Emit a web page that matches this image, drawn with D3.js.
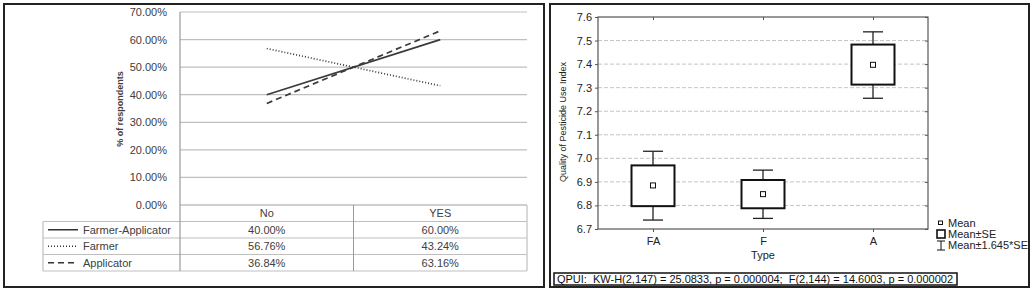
<!DOCTYPE html>
<html>
<head>
<meta charset="utf-8">
<script src="https://cdn.jsdelivr.net/npm/d3@7"></script>
<style>
  body { margin: 0; background: #fff; }
  svg text { font-family: "Liberation Sans", Arial, sans-serif; }
</style>
</head>
<body>
<div id="chart"></div>
<script>

// LEFT CHART DATA
const groups = ['No', 'YES'];
const seriesNames = ['Farmer-Applicator', 'Farmer', 'Applicator'];
const farmerApplicator = [40.00, 60.00];
const farmer = [56.76, 43.24];
const applicator = [36.84, 63.16];
const pctTicks = [0, 10, 20, 30, 40, 50, 60, 70];

// RIGHT CHART DATA
const types = ['FA', 'F', 'A'];
const means = [6.885, 6.848, 7.397];
const seLow = [6.797, 6.788, 7.313];
const seHigh = [6.970, 6.908, 7.483];
const ciLow = [6.738, 6.745, 7.255];
const ciHigh = [7.030, 6.950, 7.537];
const qpuiTicks = [6.7, 6.8, 6.9, 7.0, 7.1, 7.2, 7.3, 7.4, 7.5, 7.6];
const legendLabels = ['Mean', 'Mean\u00b1SE', 'Mean\u00b11.645*SE'];
const footer = 'QPUI:  KW-H(2,147) = 25.0833, p = 0.000004;  F(2,144) = 14.6003, p = 0.000002';

const dashes = ['none', '1,2', '6,4'];

var svg = d3.select('#chart')
    .append('svg')
    .attr('width', 1035)
    .attr('height', 293);

// panel frames
svg.append('rect').attr('x', 4).attr('y', 4).attr('width', 540).attr('height', 283)
    .attr('fill', 'none').attr('stroke', '#222').attr('stroke-width', 2);
svg.append('rect').attr('x', 550).attr('y', 4).attr('width', 479).attr('height', 283)
    .attr('fill', 'none').attr('stroke', '#222').attr('stroke-width', 2);


//// LEFT: line chart with data table
const left = svg.append('g');

const xL = d3.scaleBand().domain(groups).range([180, 527]);
const yL = d3.scaleLinear().domain([0, 70]).range([205, 12]);
const rows = d3.scaleBand().domain(['head'].concat(seriesNames)).range([205, 271]);

// gridlines
left.selectAll('line.grid')
    .data(pctTicks)
    .enter().append('line')
    .attr('x1', 180).attr('x2', 527)
    .attr('y1', d => yL(d)).attr('y2', d => yL(d))
    .attr('stroke', '#bfbfbf').attr('stroke-width', 1.2);

left.selectAll('text.ytick')
    .data(pctTicks)
    .enter().append('text')
    .attr('x', 167)
    .attr('y', d => yL(d) + 4)
    .attr('text-anchor', 'end')
    .style('font-size', '11px')
    .style('fill', '#404040')
    .text(d => d.toFixed(2) + '%');

let lbl = left.append('text');
lbl.attr('transform', 'translate(123, 109)rotate(-90)');
lbl.attr('text-anchor', 'middle');
lbl.style('font-size', '9px').style('font-weight', 'bold').style('fill', '#404040');
lbl.text('% of respondents');

// table lines
const rowEdges = [205].concat(seriesNames.map(s => rows(s))).concat([271]);
left.selectAll('line.row')
    .data(rowEdges)
    .enter().append('line')
    .attr('x1', (d, i) => i === 0 ? 180 : 43).attr('x2', 527)
    .attr('y1', d => d).attr('y2', d => d)
    .attr('stroke', '#bfbfbf').attr('stroke-width', 1.2);

left.append('line').attr('x1', 43).attr('x2', 43).attr('y1', rows(seriesNames[0])).attr('y2', 271)
    .attr('stroke', '#bfbfbf').attr('stroke-width', 1.2);
left.append('line').attr('x1', 180).attr('x2', 180).attr('y1', yL(70)).attr('y2', 271)
    .attr('stroke', '#9a9a9a').attr('stroke-width', 1.2);
left.append('line').attr('x1', xL('YES')).attr('x2', xL('YES')).attr('y1', 205).attr('y2', 271)
    .attr('stroke', '#9a9a9a').attr('stroke-width', 1);
left.append('line').attr('x1', 527).attr('x2', 527).attr('y1', 205).attr('y2', 271)
    .attr('stroke', '#bfbfbf').attr('stroke-width', 1.2);

// header
left.selectAll('text.head')
    .data(groups)
    .enter().append('text')
    .attr('x', d => xL(d) + xL.bandwidth() / 2)
    .attr('y', rows('head') + 12)
    .attr('text-anchor', 'middle')
    .style('font-size', '11px').style('fill', '#404040')
    .text(d => d);

const seriesData = [farmerApplicator, farmer, applicator];

seriesNames.forEach(function (name, i) {
    const vals = seriesData[i];
    const ry = rows(name) + rows.bandwidth() / 2;

    // legend sample + name
    left.append('line')
        .attr('x1', 48).attr('x2', 78)
        .attr('y1', ry).attr('y2', ry)
        .attr('stroke', '#333').attr('stroke-width', 1.5)
        .attr('stroke-dasharray', dashes[i]);
    left.append('text')
        .attr('x', 83).attr('y', ry + 4)
        .style('font-size', '11px').style('fill', '#404040')
        .text(name);

    // values
    left.selectAll('text.v' + i)
        .data(vals)
        .enter().append('text')
        .attr('x', (d, j) => xL(groups[j]) + xL.bandwidth() / 2)
        .attr('y', ry + 4)
        .attr('text-anchor', 'middle')
        .style('font-size', '11px').style('fill', '#404040')
        .text(d => d.toFixed(2) + '%');

    // the line
    const line = d3.line()
        .x((d, j) => xL(groups[j]) + xL.bandwidth() / 2)
        .y(d => yL(d));
    left.append('path')
        .datum(vals)
        .attr('d', line)
        .attr('fill', 'none')
        .attr('stroke', '#3a3a3a')
        .attr('stroke-width', 1.7)
        .attr('stroke-dasharray', dashes[i]);
});


//// RIGHT: box plot
const right = svg.append('g');

const xR = d3.scalePoint().domain(types).range([598, 928]).padding(0.5);
const yR = d3.scaleLinear().domain([6.7, 7.6]).range([229, 17]);

right.selectAll('line.grid')
    .data(qpuiTicks.slice(1, -1))
    .enter().append('line')
    .attr('x1', 598).attr('x2', 928)
    .attr('y1', d => yR(d)).attr('y2', d => yR(d))
    .attr('stroke', '#c4c4c4').attr('stroke-width', 1)
    .attr('stroke-dasharray', '4,2');

// frame
right.append('rect')
    .attr('x', 598).attr('y', yR(7.6))
    .attr('width', 330).attr('height', yR(6.7) - yR(7.6))
    .attr('fill', 'none').attr('stroke', '#555').attr('stroke-width', 1.2);

right.append('g')
    .attr('transform', 'translate(598, 0)')
    .call(d3.axisLeft(yR).tickValues(qpuiTicks).tickSize(3).tickFormat(d3.format('.1f')))
    .call(g => g.select('.domain').remove())
    .call(g => g.selectAll('line').attr('stroke', '#555'))
    .call(g => g.selectAll('text').attr('x', -6).style('font-size', '11px')
        .style('font-family', '"Liberation Sans", Arial, sans-serif').attr('fill', '#222'));

right.append('g')
    .attr('transform', 'translate(928, 0)')
    .call(d3.axisLeft(yR).tickValues(qpuiTicks).tickSize(3).tickFormat(''))
    .call(g => g.select('.domain').remove())
    .call(g => g.selectAll('line').attr('stroke', '#555'));

right.append('g')
    .attr('transform', 'translate(0, ' + yR(6.7) + ')')
    .call(d3.axisBottom(xR).tickSize(3))
    .call(g => g.select('.domain').remove())
    .call(g => g.selectAll('line').attr('stroke', '#555'))
    .call(g => g.selectAll('text').attr('y', 8).style('font-size', '11px')
        .style('font-family', '"Liberation Sans", Arial, sans-serif').attr('fill', '#222'));

right.append('g')
    .attr('transform', 'translate(0, ' + yR(7.6) + ')')
    .call(d3.axisBottom(xR).tickSize(3).tickFormat(''))
    .call(g => g.select('.domain').remove())
    .call(g => g.selectAll('line').attr('stroke', '#555'));

right.append('text')
    .attr('transform', 'translate(566, 122)rotate(-90)')
    .attr('text-anchor', 'middle')
    .style('font-size', '9px').style('fill', '#222')
    .text('Quality of Pesticide Use Index');

right.append('text')
    .attr('x', xR('F')).attr('y', 259)
    .attr('text-anchor', 'middle')
    .style('font-size', '11px').style('fill', '#222')
    .text('Type');

const boxes = right.selectAll('g.box')
    .data(types)
    .enter().append('g');

// whiskers
boxes.append('line')
    .attr('x1', d => xR(d)).attr('x2', d => xR(d))
    .attr('y1', (d, i) => yR(ciHigh[i])).attr('y2', (d, i) => yR(ciLow[i]))
    .attr('stroke', '#222').attr('stroke-width', 1.3);
boxes.append('line')
    .attr('x1', d => xR(d) - 10).attr('x2', d => xR(d) + 10)
    .attr('y1', (d, i) => yR(ciHigh[i])).attr('y2', (d, i) => yR(ciHigh[i]))
    .attr('stroke', '#222').attr('stroke-width', 1.3);
boxes.append('line')
    .attr('x1', d => xR(d) - 10).attr('x2', d => xR(d) + 10)
    .attr('y1', (d, i) => yR(ciLow[i])).attr('y2', (d, i) => yR(ciLow[i]))
    .attr('stroke', '#222').attr('stroke-width', 1.3);

// SE box
boxes.append('rect')
    .attr('x', d => xR(d) - 21.5).attr('width', 43)
    .attr('y', (d, i) => yR(seHigh[i]))
    .attr('height', (d, i) => yR(seLow[i]) - yR(seHigh[i]))
    .attr('fill', '#fff').attr('stroke', '#111').attr('stroke-width', 2);

// mean
boxes.append('rect')
    .attr('x', d => xR(d) - 2.5).attr('width', 5)
    .attr('y', (d, i) => yR(means[i]) - 2.5).attr('height', 5)
    .attr('fill', '#fff').attr('stroke', '#111').attr('stroke-width', 1);

// legend
const lg = right.append('g').attr('transform', 'translate(937, 0)');
lg.append('rect').attr('x', 1.5).attr('y', 221).attr('width', 4).attr('height', 3.5)
    .attr('fill', '#fff').attr('stroke', '#111').attr('stroke-width', 1);
lg.append('rect').attr('x', 0).attr('y', 230).attr('width', 8).attr('height', 8)
    .attr('fill', '#fff').attr('stroke', '#111').attr('stroke-width', 1.6);
lg.append('line').attr('x1', 4).attr('x2', 4).attr('y1', 241).attr('y2', 250).attr('stroke', '#111');
lg.append('line').attr('x1', 0).attr('x2', 8).attr('y1', 241).attr('y2', 241).attr('stroke', '#111');
lg.append('line').attr('x1', 0).attr('x2', 8).attr('y1', 250).attr('y2', 250).attr('stroke', '#111');

lg.selectAll('text')
    .data(legendLabels)
    .enter().append('text')
    .attr('x', 11)
    .attr('y', (d, i) => 227 + i * 11)
    .style('font-size', '11px').style('fill', '#222')
    .text(d => d);

// footer stats box
right.append('rect')
    .attr('x', 554).attr('y', 273).attr('width', 403).attr('height', 12)
    .attr('fill', '#fff').attr('stroke', '#111').attr('stroke-width', 1.5);
right.append('text')
    .attr('x', 557).attr('y', 283)
    .attr('textLength', 396)
    .attr('lengthAdjust', 'spacing')
    .style('white-space', 'pre')
    .style('font-size', '11px').style('fill', '#111')
    .text(footer);

</script>
</body>
</html>
